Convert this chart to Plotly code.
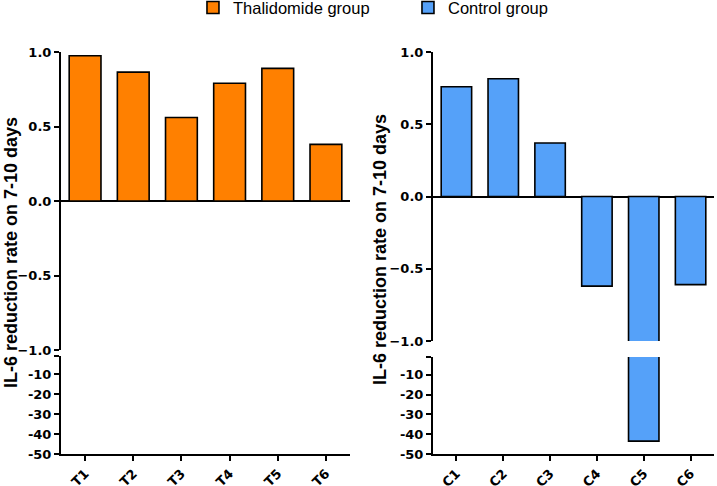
import plotly.graph_objects as go

# --- Data ---
t_labels = ['T1', 'T2', 'T3', 'T4', 'T5', 'T6']
t_values = [0.975, 0.865, 0.56, 0.79, 0.89, 0.38]
c_labels = ['C1', 'C2', 'C3', 'C4', 'C5', 'C6']
c_values = [0.76, 0.815, 0.37, -0.62, -43.5, -0.61]

top_ticks = [-1.0, -0.5, 0.0, 0.5, 1.0]
bottom_ticks = [-50, -40, -30, -20, -10, -1]
bottom_ticktext = ['-50', '-40', '-30', '-20', '-10', '']

ORANGE = '#FF8000'
BLUE = '#55A1F9'
FONT = "Arial, Liberation Sans, sans-serif"
TICK_FONT = "DejaVu Sans, Arial, sans-serif"
W, H = 717, 486


def py(px):
    # pixel row -> paper fraction
    return 1 - px / H


def px_(px):
    return px / W


fig = go.Figure()

# left panel: top segment + bottom segment (broken axis)
fig.add_trace(go.Bar(x=t_labels, y=t_values, name='Thalidomide group', marker=dict(color=ORANGE, line=dict(color='black', width=1.6)),
                     width=0.66, xaxis='x', yaxis='y'))
fig.add_trace(go.Bar(x=t_labels, y=t_values, showlegend=False, marker=dict(color=ORANGE, line=dict(color='black', width=1.6)),
                     width=0.66, xaxis='x2', yaxis='y2'))
# right panel
fig.add_trace(go.Bar(x=c_labels, y=c_values, name='Control group', marker=dict(color=BLUE, line=dict(color='black', width=1.6)),
                     width=0.65, xaxis='x3', yaxis='y3'))
fig.add_trace(go.Bar(x=c_labels, y=c_values, showlegend=False, marker=dict(color=BLUE, line=dict(color='black', width=1.6)),
                     width=0.65, xaxis='x4', yaxis='y4'))

tickfont = dict(family=TICK_FONT, size=13, color='black', weight='bold')
left_dom = [px_(61), px_(350)]
right_dom = [px_(433), px_(714)]

common_y = dict(showline=True, linecolor='black', linewidth=2, ticks='outside', ticklen=5, tickwidth=2,
                tickcolor='black', showgrid=False, tickfont=tickfont)
top_y = dict(common_y, range=[-1, 1], tickvals=top_ticks, tickformat='.1f', zeroline=True,
             zerolinecolor='black', zerolinewidth=2)
bot_y = dict(common_y, range=[-50, -1], tickvals=bottom_ticks, ticktext=bottom_ticktext, zeroline=False)

hidden_x = dict(visible=False, range=[-0.5, 5.5], type='category')
bot_x = dict(range=[-0.5, 5.5], type='category', showline=True, linecolor='black', linewidth=2,
             ticks='outside', ticklen=5, tickwidth=2, tickcolor='black', tickangle=-45,
             tickfont=dict(family=TICK_FONT, size=13, color='black', weight='bold'), showgrid=False)

fig.update_layout(
    width=W, height=H,
    margin=dict(l=0, r=0, t=0, b=0, autoexpand=False),
    plot_bgcolor='white', paper_bgcolor='white',
    font=dict(family=FONT, color='black'),
    xaxis=dict(hidden_x, domain=left_dom, anchor='y'),
    yaxis=dict(top_y, domain=[py(350), py(52)], anchor='x'),
    xaxis2=dict(bot_x, domain=left_dom, anchor='y2'),
    yaxis2=dict(bot_y, domain=[py(454), py(356)], anchor='x2'),
    xaxis3=dict(hidden_x, domain=right_dom, anchor='y3'),
    yaxis3=dict(top_y, domain=[py(341), py(52)], anchor='x3'),
    xaxis4=dict(bot_x, domain=right_dom, anchor='y4'),
    yaxis4=dict(bot_y, domain=[py(454), py(357)], anchor='x4'),
    legend=dict(orientation='h', x=0.569, xanchor='center', y=1.02, yanchor='top',
                font=dict(family=FONT, size=16.5, color='black'), itemwidth=30,
                entrywidth=170, entrywidthmode='pixels', traceorder='normal'),
    annotations=[
        dict(text='<b>IL-6 reduction rate on 7-10 days</b>', textangle=-90, x=px_(11), y=py(253),
             xref='paper', yref='paper', xanchor='center', yanchor='middle', showarrow=False,
             font=dict(family=FONT, size=18, color='black')),
        dict(text='<b>IL-6 reduction rate on 7-10 days</b>', textangle=-90, x=px_(380), y=py(250),
             xref='paper', yref='paper', xanchor='center', yanchor='middle', showarrow=False,
             font=dict(family=FONT, size=18, color='black')),
    ],
)

# drop the default 8px body margin so the figure sits at the page origin
fig.write_html("out.html", config={'displayModeBar': False},
               post_script="document.body.style.margin='0';document.body.style.overflow='hidden';")
